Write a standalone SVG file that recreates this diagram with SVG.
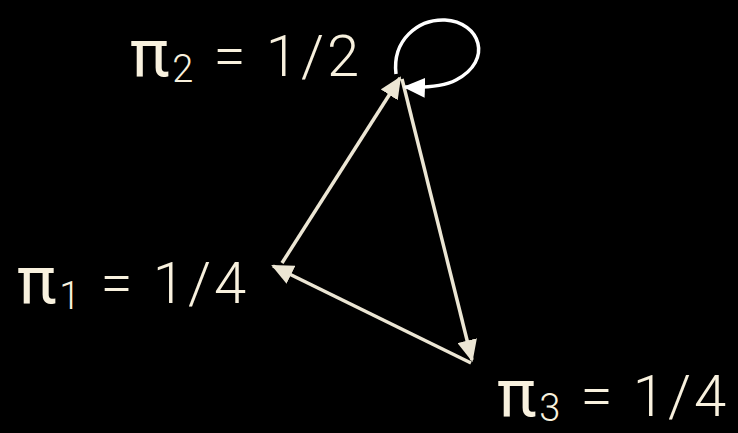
<svg xmlns="http://www.w3.org/2000/svg" width="738" height="433" viewBox="0 0 738 433">
<style>
.lbl{font-family:"Roboto","Liberation Sans",sans-serif;font-weight:300;font-size:58px;fill:#f8f1de;letter-spacing:3px}
.pi{font-size:66px;font-weight:400}
.sub{font-size:38px}
.edge{stroke:#ece6d4;stroke-width:3.5;fill:none}
.loop{stroke:#ffffff;stroke-width:3.5;fill:none}
</style>
<defs>
<marker id="ah" markerUnits="userSpaceOnUse" markerWidth="22" markerHeight="20" refX="20" refY="10" orient="auto" viewBox="0 0 22 20">
<path d="M0,0 L22,10 L0,20 z" fill="#ece6d4"/>
</marker>
<marker id="ahw" markerUnits="userSpaceOnUse" markerWidth="22" markerHeight="20" refX="20" refY="10" orient="auto" viewBox="0 0 22 20">
<path d="M0,0 L22,10 L0,20 z" fill="#ffffff"/>
</marker>
</defs>
<rect width="738" height="433" fill="#000000"/>
<g id="connectors">
<path class="edge" d="M282,263 L400,78" marker-end="url(#ah)"/>
<path class="edge" d="M402,79 L472,360" marker-end="url(#ah)"/>
<path class="edge" d="M471,363 L273,266" marker-end="url(#ah)"/>
<path class="loop" d="M396,74 C392,40 418,19 445,20 C480,22 494,60 456,80 C445,86 430,88 405,87" marker-end="url(#ahw)"/>
</g>
<g id="pi2"><text class="lbl" x="130" y="76"><tspan class="pi">π</tspan><tspan class="sub" dy="6">2</tspan><tspan dy="-6"> = 1/2</tspan></text></g>
<g id="pi1"><text class="lbl" x="17" y="303"><tspan class="pi">π</tspan><tspan class="sub" dy="6">1</tspan><tspan dy="-6"> = 1/4</tspan></text></g>
<g id="pi3"><text class="lbl" x="497" y="416"><tspan class="pi">π</tspan><tspan class="sub" dy="5">3</tspan><tspan dy="-5"> = 1/4</tspan></text></g>
</svg>
